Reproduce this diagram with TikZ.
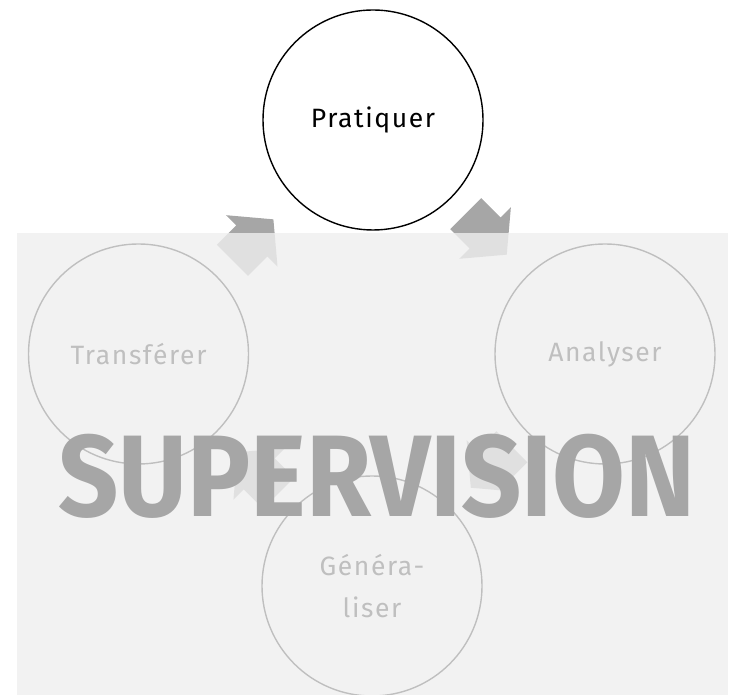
\documentclass[tikz,border=0pt]{standalone}
\usepackage{fontspec}
\setmainfont{Fira Sans}[LetterSpace=6]
\usetikzlibrary{shapes.arrows,calc}
\definecolor{flowgray}{HTML}{A6A6A6}
\definecolor{veil}{HTML}{EFEFEF}
\tikzset{
  stage/.style={circle,draw=black,line width=1.4pt,minimum size=220pt,inner sep=0pt,font=\fontsize{26.5}{42}\selectfont,align=center},
  flow/.style={single arrow,fill=flowgray,draw=none,minimum height=58pt,inner xsep=0pt,inner ysep=21.75pt,single arrow head extend=14.5pt,single arrow tip angle=100}
}
\begin{document}
\begin{tikzpicture}[x=1pt,y=1pt]
\useasboundingbox (0,0) rectangle (730,695);
\node[stage] (pratiquer) at (373,575) {Pratiquer};
\node[stage] (transferer) at (138.5,341) {Transférer};
\node[stage] (analyser) at (605,341) {Analyser};
\node[stage] (generaliser) at (372,109) {Généra-\\liser};
\node[flow,rotate=45] (t2p) at ($(transferer)!0.46!(pratiquer)$) {};
\node[flow,rotate=-45] (p2a) at ($(pratiquer)!0.46!(analyser)$) {};
\node[flow,rotate=-135] (a2g) at ($(analyser)!0.46!(generaliser)$) {};
\node[flow,rotate=135] (g2t) at ($(generaliser)!0.46!(transferer)$) {};
\fill[veil,opacity=.8] (17,0) rectangle (728,462);
\node[anchor=base,text=flowgray,font=\fontsize{116}{116}\bfseries\addfontfeatures{LetterSpace=0}\selectfont,inner sep=0pt,xscale=.91] (supervision) at (377,178) {SUPERVISION};
\end{tikzpicture}
\end{document}
